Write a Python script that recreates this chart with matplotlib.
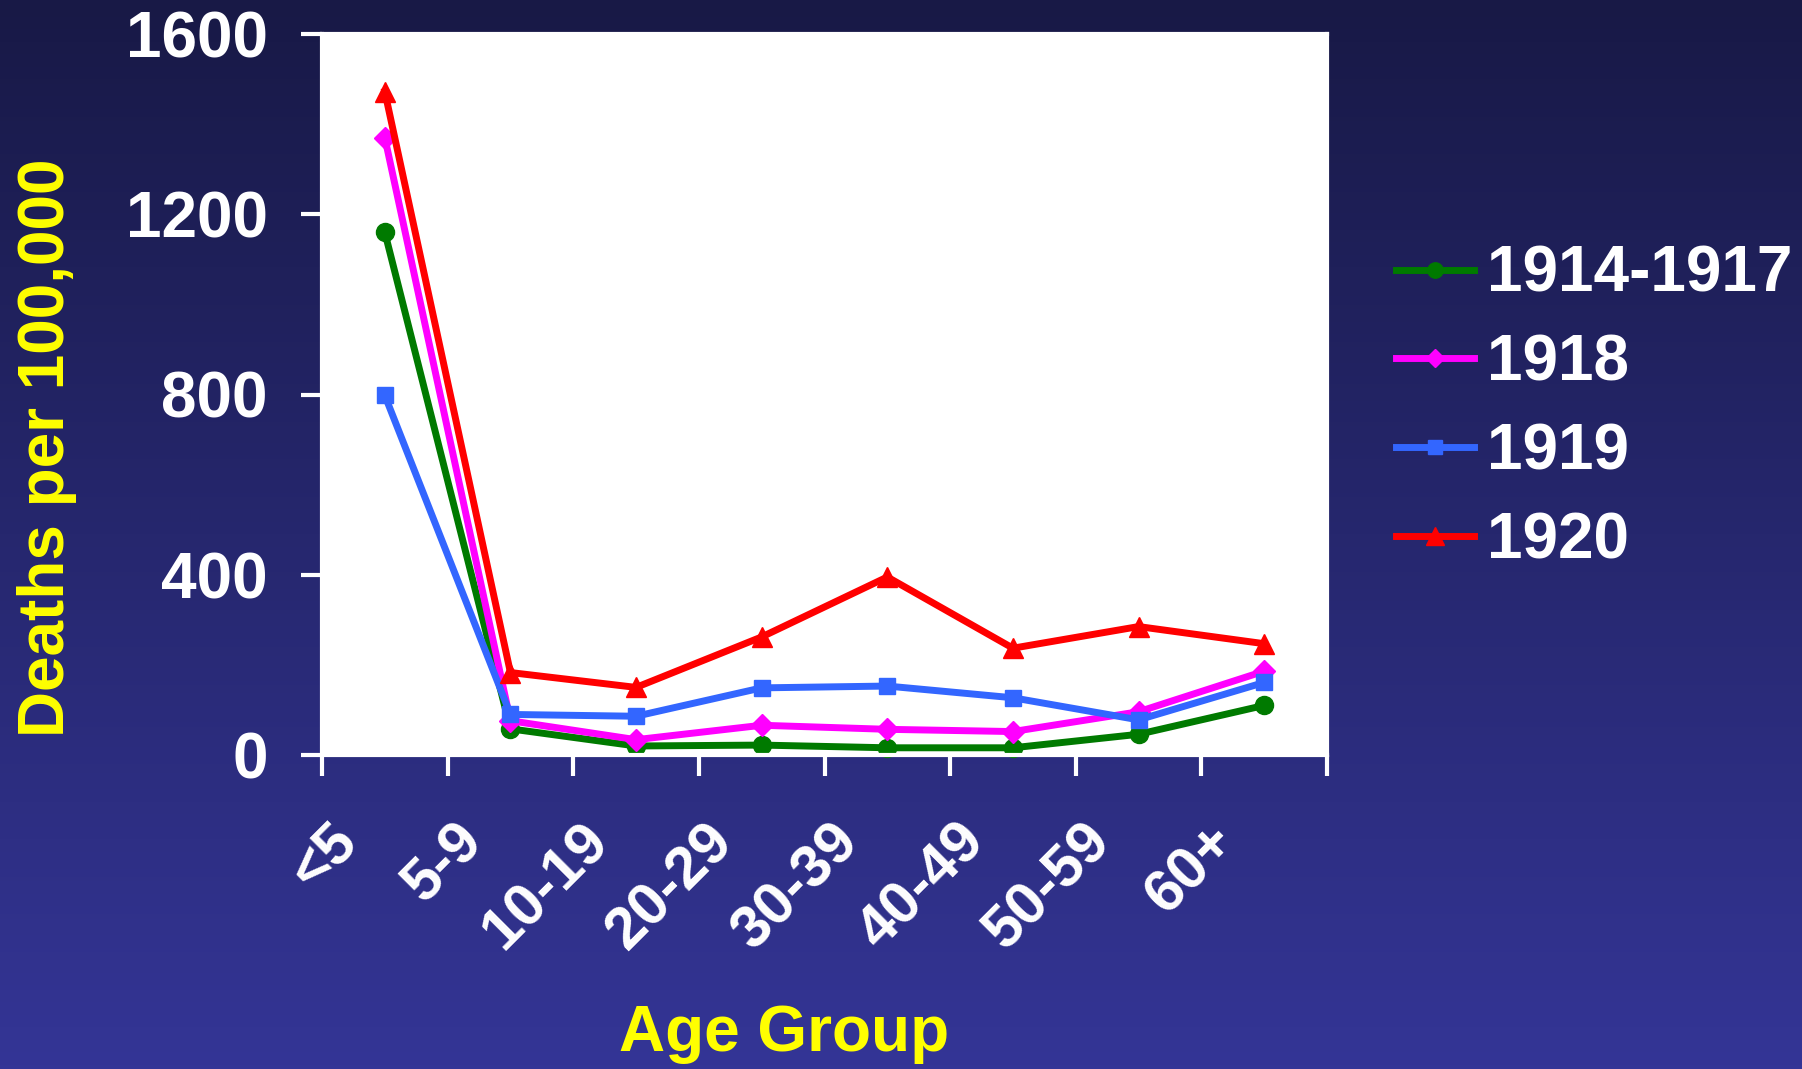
import matplotlib.pyplot as plt
import numpy as np
from matplotlib.transforms import ScaledTranslation

plt.rcParams['font.family'] = ['Liberation Sans', 'DejaVu Sans']
plt.rcParams['font.weight'] = 'bold'

age_groups = ["<5", "5-9", "10-19", "20-29", "30-39", "40-49", "50-59", "60+"]
deaths_1914_1917 = [1160, 58, 20, 22, 16, 16, 46, 110]
deaths_1918 = [1370, 76, 34, 66, 57, 52, 96, 186]
deaths_1919 = [798, 90, 86, 149, 153, 127, 78, 161]
deaths_1920 = [1472, 183, 150, 262, 395, 237, 285, 247]

series = [
    ("1914-1917", deaths_1914_1917, "#007a00", "o", 13),
    ("1918", deaths_1918, "#ff00ff", "D", 11),
    ("1919", deaths_1919, "#3366ff", "s", 12),
    ("1920", deaths_1920, "#ff0000", "^", 15),
]

W, H = 1802, 1069
fig = plt.figure(figsize=(W / 100, H / 100), dpi=100)

# navy gradient behind everything
bg = fig.add_axes([0, 0, 1, 1], zorder=-10)
top = np.array([24, 25, 70]) / 255
bottom = np.array([52, 53, 150]) / 255
t = np.linspace(0, 1, 256)[:, None]
grad = top + (bottom - top) * t
bg.imshow(grad[:, None, :], aspect="auto", extent=[0, 1, 1, 0])
bg.axis("off")

left, right, ytop, ybot = 322, 1327, 34, 755
ax = fig.add_axes([left / W, 1 - ybot / H, (right - left) / W, (ybot - ytop) / H])
ax.set_facecolor("white")

x = np.arange(len(age_groups))
for name, vals, color, marker, ms in series:
    ax.plot(x, vals, color=color, lw=5, marker=marker, ms=ms, label=name,
            solid_joinstyle="miter", clip_on=False)

ax.set_xlim(-0.5, len(age_groups) - 0.5)
ax.set_ylim(0, 1600)
ax.set_yticks([0, 400, 800, 1200, 1600])
ax.tick_params(axis="y", colors="white", labelsize=46, length=15, width=3, pad=24,
               direction="out")
ax.set_xticks(np.arange(-0.5, len(age_groups)), [])
ax.tick_params(axis="x", which="major", colors="white", length=15, width=3, direction="out")
ax.set_xticks(x, age_groups, minor=True)
ax.tick_params(axis="x", which="minor", length=0, pad=42, labelsize=43, labelcolor="white")
off = ScaledTranslation(-0.56, 0, fig.dpi_scale_trans)
for lab in ax.get_xticklabels(minor=True):
    lab.set_rotation(45)
    lab.set_rotation_mode("anchor")
    lab.set_ha("right")
    lab.set_va("top")
    lab.set_transform(lab.get_transform() + off)

for s in ax.spines.values():
    s.set_color("white")
    s.set_linewidth(3)

fig.text(47 / W, 1 - 448 / H, "Deaths per 100,000", color="yellow", fontsize=46,
         rotation=90, ha="center", va="center")
fig.text(784 / W, 1 - 1034 / H, "Age Group", color="yellow", fontsize=46,
         ha="center", va="center")

leg = ax.legend(loc="upper left", bbox_to_anchor=(1396 / W, 1 - 245 / H),
                bbox_transform=fig.transFigure, frameon=False, fontsize=46,
                labelcolor="white", handlelength=1.22, handletextpad=0.2,
                labelspacing=0.45, borderpad=0, borderaxespad=0, markerscale=0.85)

fig.savefig("out.png", dpi=100)
